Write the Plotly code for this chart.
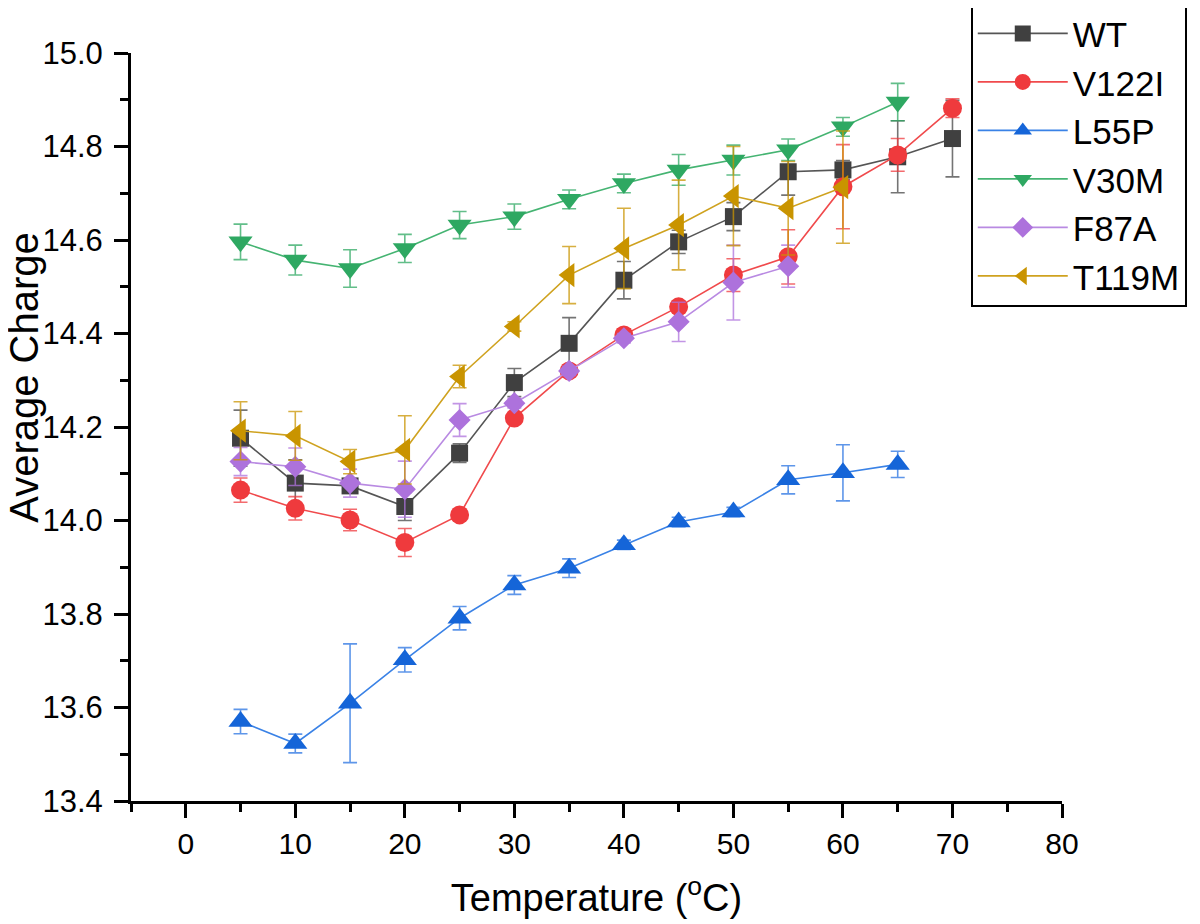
import plotly.graph_objects as go

# ---------------- data ----------------
temps_wt = [5, 10, 15, 20, 25, 30, 35, 40, 45, 50, 55, 60, 65, 70]
wt = [14.176, 14.080, 14.074, 14.030, 14.144, 14.295, 14.379, 14.514, 14.596, 14.650, 14.746, 14.750, 14.778, 14.817]
wt_err = [0.06, 0.05, 0.01, 0.03, 0.02, 0.03, 0.055, 0.04, 0.025, 0.03, 0.05, 0.02, 0.077, 0.082]

temps_v122i = [5, 10, 15, 20, 25, 30, 35, 40, 45, 50, 55, 60, 65, 70]
v122i = [14.065, 14.026, 14.001, 13.953, 14.012, 14.219, 14.320, 14.397, 14.457, 14.525, 14.564, 14.714, 14.782, 14.882]
v122i_err = [0.026, 0.025, 0.023, 0.03, 0.005, 0.01, 0.012, 0.013, 0.01, 0.035, 0.058, 0.09, 0.035, 0.02]

temps_l55p = [5, 10, 15, 20, 25, 30, 35, 40, 45, 50, 55, 60, 65]
l55p = [13.570, 13.523, 13.609, 13.702, 13.791, 13.862, 13.898, 13.948, 13.997, 14.018, 14.087, 14.102, 14.120]
l55p_err = [0.026, 0.02, 0.127, 0.026, 0.025, 0.02, 0.02, 0.01, 0.01, 0.01, 0.03, 0.06, 0.028]

temps_v30m = [5, 10, 15, 20, 25, 30, 35, 40, 45, 50, 55, 60, 65]
v30m = [14.596, 14.557, 14.539, 14.582, 14.632, 14.650, 14.687, 14.721, 14.750, 14.771, 14.793, 14.842, 14.895]
v30m_err = [0.038, 0.032, 0.04, 0.03, 0.029, 0.027, 0.02, 0.02, 0.033, 0.032, 0.023, 0.02, 0.04]

temps_f87a = [5, 10, 15, 20, 25, 30, 35, 40, 45, 50, 55]
f87a = [14.126, 14.115, 14.080, 14.067, 14.215, 14.251, 14.320, 14.390, 14.425, 14.509, 14.544]
f87a_err = [0.03, 0.04, 0.03, 0.06, 0.035, 0.01, 0.01, 0.01, 0.042, 0.08, 0.045]

temps_t119m = [5, 10, 15, 20, 25, 30, 35, 40, 45, 50, 55, 60]
t119m = [14.192, 14.181, 14.126, 14.151, 14.308, 14.415, 14.525, 14.582, 14.632, 14.694, 14.668, 14.713]
t119m_err = [0.062, 0.052, 0.026, 0.073, 0.024, 0.01, 0.061, 0.086, 0.096, 0.106, 0.1, 0.12]

x_tick_vals = [0, 10, 20, 30, 40, 50, 60, 70, 80]
y_tick_vals = [13.4, 13.6, 13.8, 14.0, 14.2, 14.4, 14.6, 14.8, 15.0]

series = [
    ("WT", temps_wt, wt, wt_err, "#404040", "#555555", "rgba(70,70,70,0.75)", "square", 17),
    ("V122I", temps_v122i, v122i, v122i_err, "#EF3A3D", "#F04A4C", "rgba(239,58,61,0.75)", "circle", 19),
    ("L55P", temps_l55p, l55p, l55p_err, "#1565D8", "#3A82E6", "rgba(40,115,225,0.75)", "triangle-up", 21),
    ("V30M", temps_v30m, v30m, v30m_err, "#2EA862", "#45B472", "rgba(46,168,98,0.75)", "triangle-down", 21),
    ("F87A", temps_f87a, f87a, f87a_err, "#AD72DC", "#B98AE2", "rgba(173,114,220,0.75)", "diamond", 17),
    ("T119M", temps_t119m, t119m, t119m_err, "#C99400", "#CFA21F", "rgba(201,148,0,0.75)", "triangle-left", 21),
]

FONT = "Liberation Sans, Arial, sans-serif"

fig = go.Figure()
for name, xs, ys, es, mcol, lcol, ecol, sym, size in series:
    fig.add_trace(go.Scatter(
        x=xs, y=ys, name=name, mode="lines+markers",
        line=dict(color=lcol, width=1.6),
        marker=dict(symbol=sym, size=size, color=mcol, line=dict(width=0)),
        error_y=dict(type="data", array=es, visible=True, color=ecol, thickness=1.6, width=7),
    ))

fig.add_annotation(
    text="Average Charge", textangle=-90,
    xref="paper", yref="paper", x=-0.115, y=0.567,
    xanchor="center", yanchor="middle", showarrow=False,
    font=dict(size=40, family=FONT, color="black"),
)

# the page body adds an 8px margin, so the figure is sized to fit the window
fig.update_layout(
    width=1192, height=916,
    paper_bgcolor="white", plot_bgcolor="white",
    margin=dict(l=123, r=138, t=45, b=123, autoexpand=False),
    font=dict(family=FONT, color="black"),
    showlegend=True,
    legend=dict(
        x=0.902, y=1.068, xanchor="left", yanchor="top",
        bordercolor="black", borderwidth=2, bgcolor="white",
        font=dict(size=35, family=FONT, color="black"),
        itemwidth=90, tracegroupgap=0,
    ),
    xaxis=dict(
        range=[-5, 80], tickmode="array", tickvals=x_tick_vals,
        ticks="outside", ticklen=14, tickwidth=2.5, tickcolor="black",
        showline=True, linewidth=3, linecolor="black", mirror=False,
        showgrid=False, zeroline=False, automargin=False,
        tickfont=dict(size=30, family=FONT),
        minor=dict(dtick=5, tick0=0, ticks="outside", ticklen=8, tickwidth=2.5, tickcolor="black", showgrid=False),
        title=dict(text="Temperature (<sup>o</sup>C)", font=dict(size=38, family=FONT), standoff=26),
        ticklabelstandoff=0,
    ),
    yaxis=dict(
        range=[13.4, 15.0], tickmode="array", tickvals=y_tick_vals, tickformat=".1f",
        ticks="outside", ticklen=14, tickwidth=2.5, tickcolor="black",
        showline=True, linewidth=3, linecolor="black", mirror=False,
        showgrid=False, zeroline=False, automargin=False,
        tickfont=dict(size=31, family=FONT),
        minor=dict(dtick=0.1, tick0=13.4, ticks="outside", ticklen=8, tickwidth=2.5, tickcolor="black", showgrid=False),
        ticklabelstandoff=5,
    ),
)

fig.write_html("out.html")
